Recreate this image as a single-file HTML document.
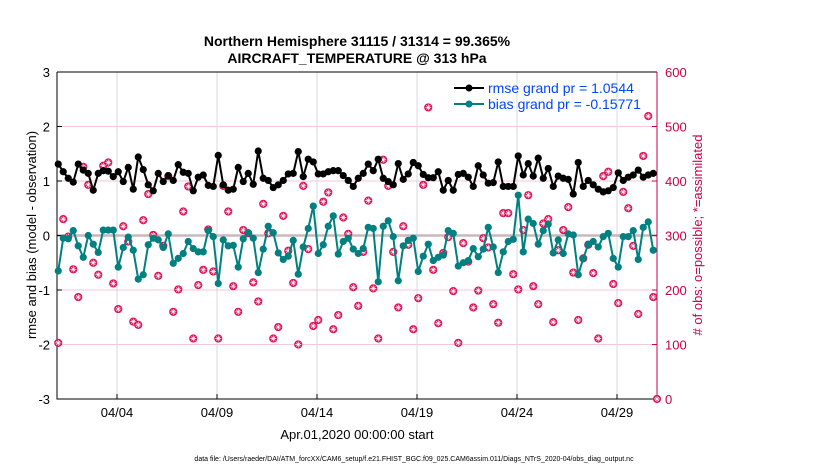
<!DOCTYPE html>
<html><head><meta charset="utf-8"><style>
body{margin:0;background:#fff;}
svg{display:block;font-family:"Liberation Sans",sans-serif;}
</style></head><body>
<svg id="chart" width="830" height="470" viewBox="0 0 830 470">
<g id="grid"></g>
<g id="axes"></g>
<g id="marks"></g>
<text x="357" y="46" text-anchor="middle" font-size="14" font-weight="bold">Northern Hemisphere 31115 / 31314 = 99.365%</text>
<text x="357" y="63" text-anchor="middle" font-size="14" font-weight="bold">AIRCRAFT_TEMPERATURE @ 313 hPa</text>
<text transform="translate(36,235) rotate(-90)" text-anchor="middle" font-size="13">rmse and bias (model - observation)</text>
<text transform="translate(702,235) rotate(-90)" text-anchor="middle" font-size="13" fill="#cc0044"># of obs: o=possible; *=assimilated</text>
<text x="357" y="439" text-anchor="middle" font-size="13">Apr.01,2020 00:00:00 start</text>
<text x="414" y="461" text-anchor="middle" font-size="7">data file: /Users/raeder/DAI/ATM_forcXX/CAM6_setup/f.e21.FHIST_BGC.f09_025.CAM6assim.011/Diags_NTrS_2020-04/obs_diag_output.nc</text>
<g>
<line x1="454" y1="88" x2="484" y2="88" stroke="#000" stroke-width="2"/><circle cx="469" cy="88" r="3.5" fill="#000"/>
<text x="488" y="93" font-size="14" fill="#0044ff">rmse grand pr = 1.0544</text>
<line x1="454" y1="104" x2="484" y2="104" stroke="#008080" stroke-width="2"/><circle cx="469" cy="104" r="3.5" fill="#008080"/>
<text x="488" y="109" font-size="14" fill="#0044ff">bias grand pr = -0.15771</text>
</g>
</svg>
<script>
const rmse=[1.31,1.17,1.05,0.98,1.31,1.20,1.14,0.83,1.14,1.19,1.18,1.08,1.17,0.99,1.25,0.85,1.44,1.21,0.93,0.82,1.14,0.99,1.10,1.01,1.30,1.16,1.14,0.82,1.07,1.11,0.92,0.90,1.47,0.93,0.83,0.85,1.25,0.99,1.14,0.94,1.55,
1.05,1.01,0.88,0.93,1.01,1.13,1.14,1.54,1.08,1.40,1.35,1.13,1.13,1.17,1.19,1.19,1.10,1.01,0.90,1.05,1.14,1.31,1.19,1.40,1.05,0.99,0.93,1.32,1.03,1.13,1.34,1.28,1.12,1.06,1.06,1.17,0.83,1.01,0.83,1.12,
1.14,1.07,0.90,1.28,1.11,0.96,0.97,1.35,0.90,0.90,0.90,1.46,1.11,1.32,1.09,1.42,1.05,1.23,0.90,1.09,1.05,1.03,0.76,1.34,0.90,1.01,0.93,0.85,0.80,0.82,0.88,1.15,1.01,1.07,1.11,1.20,1.07,1.11,1.14];
const bias=[-0.65,-0.05,-0.06,0.09,-0.19,-0.40,0,-0.16,-0.31,0.10,0.10,0.10,-0.58,-0.22,-0.03,-0.27,-0.80,-0.72,-0.17,-0.05,-0.08,-0.22,0.03,-0.51,-0.42,-0.33,-0.11,-0.24,-0.30,-0.30,0.09,-0.02,-0.88,-0.08,-0.19,-0.18,-0.58,-0.06,0.05,-0.05,-0.68,
-0.25,0.17,0.05,-0.32,-0.44,-0.38,-0.09,-0.71,-0.21,0.13,0.54,-0.33,-0.17,0.17,0.36,-0.34,-0.11,-0.05,-0.25,-0.33,-0.24,0.15,0.13,-0.85,0.17,0.27,-0.02,-0.83,-0.19,-0.09,-0.05,-0.66,-0.38,-0.16,-0.46,-0.40,-0.36,0.09,0.04,-0.56,
-0.50,-0.46,-0.24,-0.39,-0.25,0.15,-0.21,-0.68,-0.30,-0.11,-0.07,0.74,-0.30,0.30,0.22,-0.16,0.09,0.21,-0.32,-0.08,-0.33,0.03,0.01,-0.72,-0.42,-0.16,-0.11,-0.21,-0.02,0.04,-0.42,-0.58,-0.02,-0.02,0.09,-0.44,0.15,0.25,-0.27];
const nobs=[103,330,298,238,187,426,393,250,228,428,434,212,165,317,289,142,136,328,376,301,226,281,409,160,201,344,390,111,209,237,311,234,111,391,344,207,160,310,304,214,179,
358,304,111,132,336,272,213,100,391,275,134,145,362,379,128,154,333,303,205,171,270,364,203,111,439,391,270,168,317,283,128,185,393,535,237,139,268,297,198,103,
286,252,168,199,295,278,174,140,341,341,229,201,310,374,207,174,322,330,141,273,310,352,232,145,258,283,231,111,409,417,211,176,380,350,281,156,446,519,187,0];
const xTickLabels=["04/04","04/09","04/14","04/19","04/24","04/29"];
const xTickDays=[3,8,13,18,23,28];
const yTicks=[3,2,1,0,-1,-2,-3];
const rTicks=[0,100,200,300,400,500,600];

const X0=57,X1=657,Y0=72,Y1=399;
const xs=d=>X0+(d/30)*(X1-X0);
const ys=v=>Y1-(v+3)/6*(Y1-Y0);
const yr=n=>Y1-n/600*(Y1-Y0);
const dayOf=i=>0.0625+i*0.25;
const NS="http://www.w3.org/2000/svg";
function mk(tag,parent,attrs){const e=document.createElementNS(NS,tag);for(const k in attrs)e.setAttribute(k,attrs[k]);parent.appendChild(e);return e;}
const grid=document.getElementById('grid'),axes=document.getElementById('axes'),marks=document.getElementById('marks');

xTickDays.forEach((d,k)=>{
  const g=mk('line',grid,{x1:xs(d),x2:xs(d),y1:Y0,y2:Y1,stroke:'#d8d8d8','stroke-width':1});
  
  
  const t=mk('line',axes,{x1:xs(d),x2:xs(d),y1:Y1,y2:Y1-5,stroke:'#000'});
  
  
  const l=mk('text',axes,{x:xs(d),y:Y1+18,'text-anchor':'middle','font-size':13});
  l.textContent=xTickLabels[k];
  
  
});
rTicks.forEach(n=>{
  if(n>0&&n<600){const g=mk('line',grid,{x1:X0,x2:X1,y1:yr(n),y2:yr(n),stroke:'#f5c8d6','stroke-width':1});
  
  }
  const t=mk('line',axes,{x1:X1,x2:X1-5,y1:yr(n),y2:yr(n),stroke:'#cc0044'});
  
  
  const l=mk('text',axes,{x:X1+8,y:yr(n)+5,'font-size':13,fill:'#cc0044'});
  l.textContent=n;
  
  
});
yTicks.forEach(v=>{
  const t=mk('line',axes,{x1:X0,x2:X0+5,y1:ys(v),y2:ys(v),stroke:'#000'});
  
  
  const l=mk('text',axes,{x:X0-7,y:ys(v)+5,'text-anchor':'end','font-size':13});
  l.textContent=v;
  
  
});
const zl=mk('line',grid,{x1:X0,x2:X1,y1:ys(0),y2:ys(0),stroke:'#c8b8bc','stroke-width':2.5});


const fr=mk('path',axes,{d:`M${X0} ${Y0}H${X1}M${X0} ${Y0}V${Y1}H${X1}`,stroke:'#000',fill:'none'});


const ra=mk('line',axes,{x1:X1,x2:X1,y1:Y0,y2:Y1,stroke:'#cc0044'});



function series(vals,color,name){
  const p=mk('polyline',marks,{points:vals.map((v,i)=>xs(dayOf(i))+','+ys(v)).join(' '),fill:'none',stroke:color,'stroke-width':2});
  
  
  vals.forEach((v,i)=>{const c=mk('circle',marks,{cx:xs(dayOf(i)),cy:ys(v),r:3.6,fill:color});
    
    });
}
nobs.forEach((n,i)=>{
  const cx=xs(Math.min(dayOf(i),30)),cy=yr(n);
  const g=mk('g',marks,{stroke:'#dd1155','stroke-width':1,fill:'none'});
  
  
  mk('circle',g,{cx:cx,cy:cy,r:3.6,fill:'#dd1155'});
  mk('path',g,{d:`M${cx-3} ${cy}h6M${cx} ${cy-3}v6M${cx-2} ${cy-2}l4 4M${cx-2} ${cy+2}l4 -4`,stroke:'#fff','stroke-width':0.7});
});
series(rmse,'#000','rmse');
series(bias,'#008080','bias');
</script>
</body></html>
